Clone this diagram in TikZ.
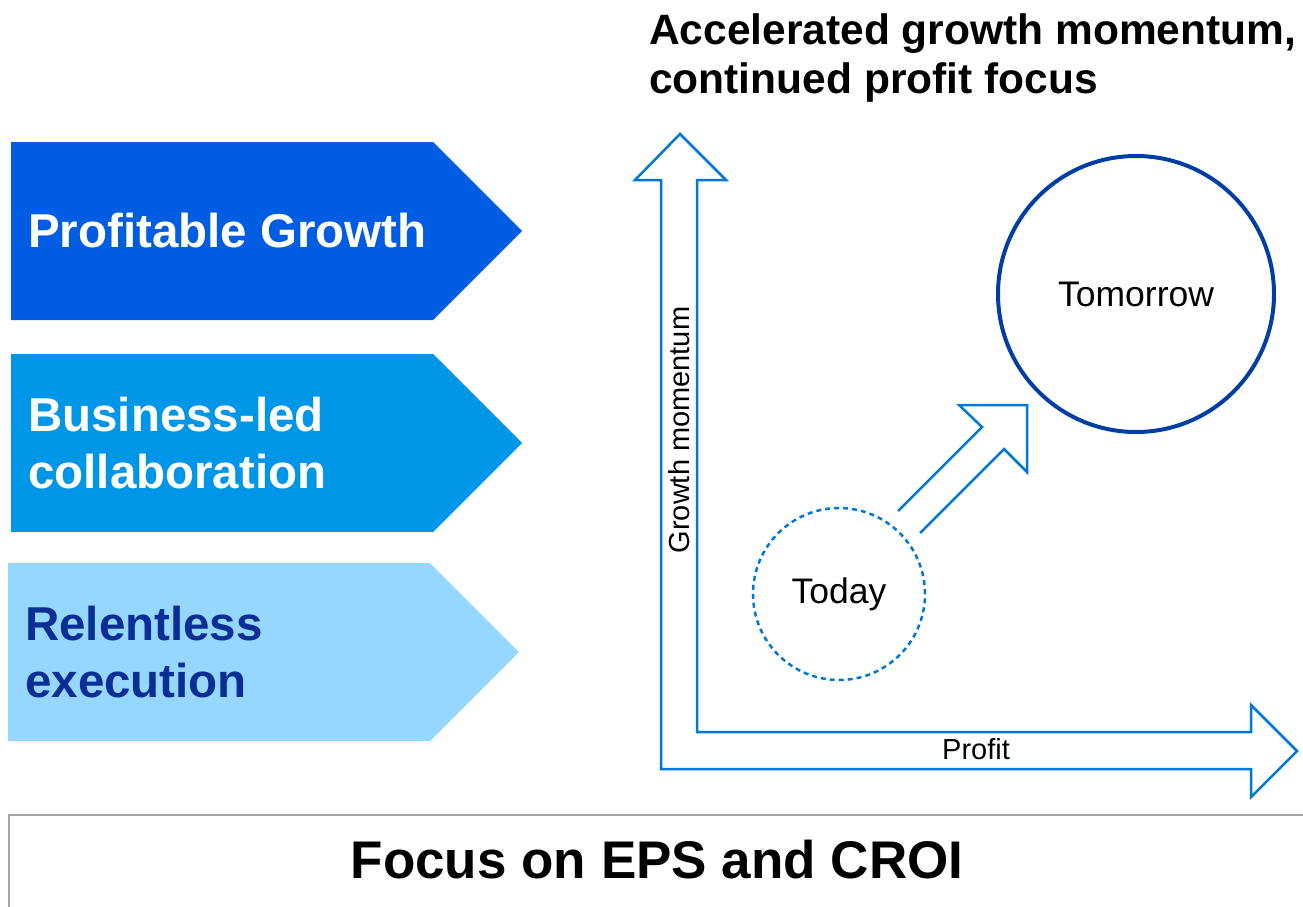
\documentclass[tikz,border=0pt]{standalone}
\usepackage{fontspec}
\setmainfont{Liberation Sans}
\definecolor{pgblue}{HTML}{005CE0}
\definecolor{blblue}{HTML}{0096E8}
\definecolor{relblue}{HTML}{96D7FF}
\definecolor{reltext}{HTML}{0A2D96}
\definecolor{axisblue}{HTML}{0078D7}
\definecolor{tmblue}{HTML}{003DA5}
\definecolor{framegray}{HTML}{A6A6A6}
\begin{document}
\begin{tikzpicture}
[x=1pt,y=-1pt,
every node/.style={inner sep=0pt},
chevtext/.style={align=left,font=\fontsize{47.5}{57}\selectfont\bfseries},
outline/.style={draw=axisblue,line width=2.5pt,line join=miter},
axislabel/.style={font=\fontsize{29}{34}\selectfont},
stage/.style={circle,font=\fontsize{35.5}{42}\selectfont}]
\useasboundingbox (0,0) rectangle (1303,907);
\foreach \nm/\xx/\yy/\fc/\tc/\txt in {pg/11/142/pgblue/white/{Profitable Growth},bl/11/354/blblue/white/{Business-led\\collaboration},re/8/563/relblue/reltext/{Relentless\\execution}}
{
\fill[\fc] (\xx,\yy) -- ++(422,0) -- ++(89,89) -- ++(-89,89) -- ++(-422,0) -- cycle;
\node[chevtext,text=\tc,anchor=west] (\nm) at (\xx+17,\yy+89) {\txt};
}
\node[anchor=north west,align=left,font=\fontsize{42.5}{49}\selectfont\bfseries] (title) at (649,14) {Accelerated growth momentum,\\continued profit focus};
\draw[outline] (661,769) -- (661,180) -- (635,180) -- (680,134) -- (726,180) -- (697,180) -- (697,732) -- (1251,732) -- (1251,705) -- (1297,751) -- (1251,797) -- (1251,769) -- cycle;
\node[axislabel,rotate=90] (gm) at (679,430) {Growth momentum};
\node[axislabel] (pr) at (976,749) {Profit};
\node[stage,draw=axisblue,line width=2.5pt,dash pattern=on 5pt off 4pt,minimum size=172] (today) at (839,594) {Today};
\node[stage,draw=tmblue,line width=4pt,minimum size=276] (tomorrow) at (1136,294) {Tomorrow};
\draw[outline] (898,511) -- (982,427) -- (959,405) -- (1027,405) -- (1027,472) -- (1004,449) -- (920,533);
\draw[framegray,line width=2pt] (9,907) -- (9,815) -- (1303,815);
\node[font=\fontsize{53}{60}\selectfont\bfseries] (eps) at (657,860) {Focus on EPS and CROI};
\end{tikzpicture}
\end{document}
